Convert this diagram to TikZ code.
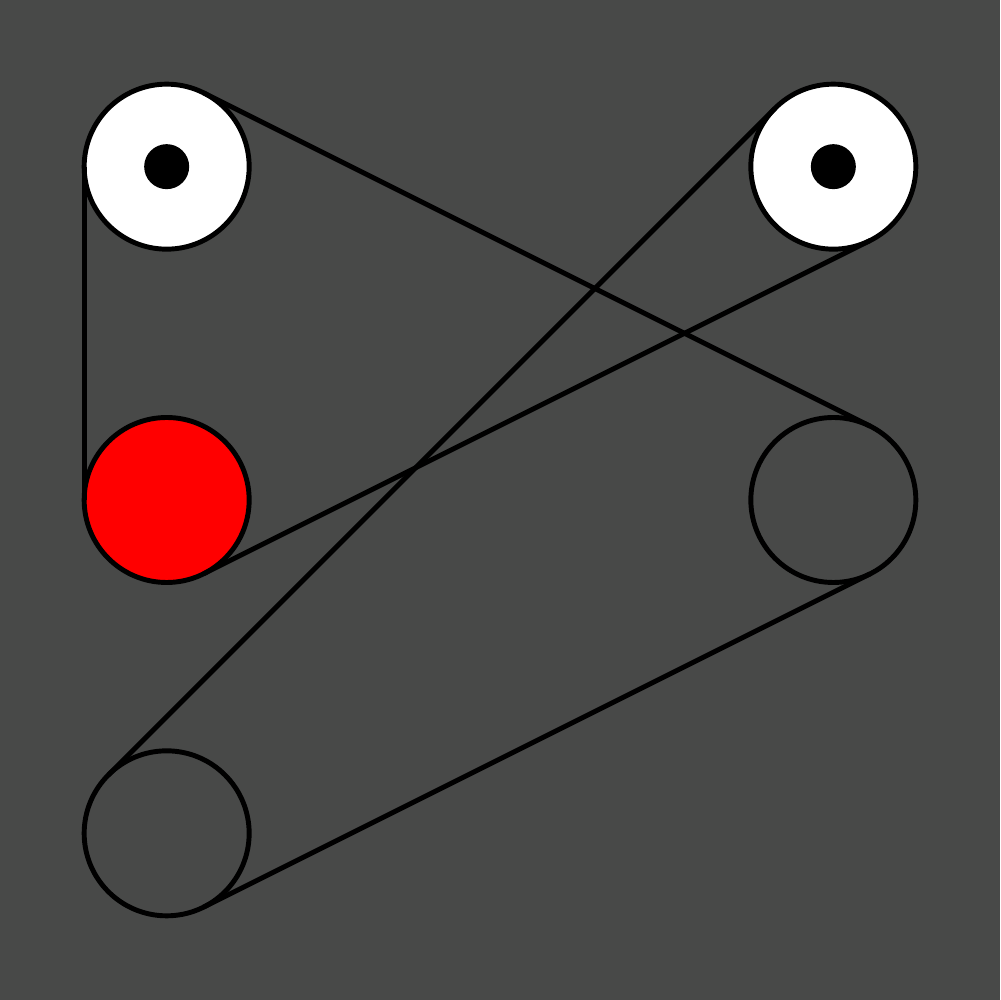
\documentclass[tikz,border=0pt]{standalone}
\usepackage{tikz}
\usepackage{xcolor}
\usetikzlibrary{calc}
\definecolor{bgGray}{RGB}{72,73,72}

\begin{document}
\begin{tikzpicture}[x=1.6667cm, y=1.6667cm, line width=1.4pt,
        pulley/.style={draw, circle, minimum size=1.65cm, inner sep=0pt},
        hub/.style={fill=black, circle, minimum size=0.45cm, inner sep=0pt}]
            \fill [bgGray] (0,0) rectangle (6,6);
            \useasboundingbox (0,0) rectangle (6,6);

            % Nodes
            \node [pulley, fill=white] (topleft) at (1,5) {};
            \node [pulley, fill=white] (topright) at (5,5) {};
            \node [pulley, fill=red] (midleft) at (1,3) {};
            \node [pulley] (midright) at (5,3) {};
            \node [pulley] (botleft) at (1,1) {};
            \node [hub] (hubleft) at (topleft) {};
            \node [hub] (hubright) at (topright) {};

            % Belt
            \foreach \a/\b in {topleft/midright, midright/botleft, botleft/topright, topright/midleft, midleft/topleft}
                \draw ($(\a)!0.825cm!90:(\b)$) -- ($(\b)!0.825cm!-90:(\a)$);

        \end{tikzpicture}
\end{document}
